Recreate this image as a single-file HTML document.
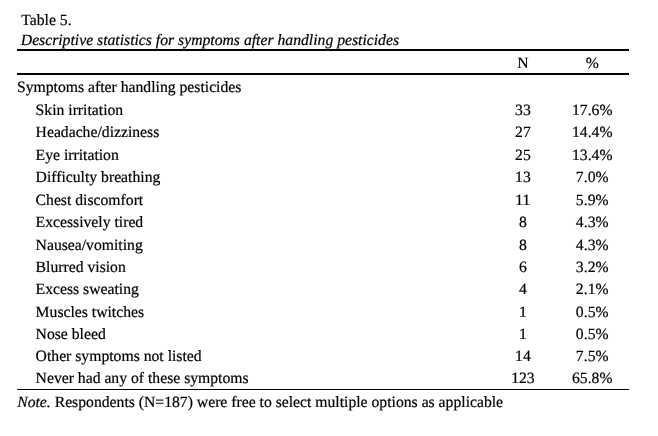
<!DOCTYPE html>
<html lang="en"><head><meta charset="utf-8"><title>Table 5</title>
<style>
html,body{margin:0;padding:0;background:#fff;}
body{width:658px;height:436px;position:relative;overflow:hidden;font-family:"Liberation Serif",serif;font-size:15.7px;line-height:18px;color:#000;text-rendering:geometricPrecision;-webkit-text-stroke:0.2px #000;}
.t{position:absolute;white-space:nowrap;line-height:18px;margin:0;}
.i{font-style:italic;}
table{position:absolute;left:17px;top:49px;width:612px;border-collapse:separate;border-spacing:0;table-layout:fixed;}
th,td{padding:0;margin:0;font-weight:normal;vertical-align:top;white-space:nowrap;line-height:18px;box-sizing:border-box;}
thead th{border-top:2px solid #000;border-bottom:2px solid #000;height:26px;}
td.g{text-align:left;padding-left:0;}
td.s{text-align:left;padding-left:18.6px;}
td.n,th.n{text-align:center;padding-left:0.8px;}
td.p,th.p{text-align:center;padding-right:2.6px;}
tr.last td{border-bottom:1px solid #000;}
</style></head><body>
<div class="t" style="left:21.3px;top:12px">Table 5.</div>
<div class="t i" style="left:20.8px;top:32px">Descriptive statistics for symptoms after handling pesticides</div>
<table>
<colgroup><col style="width:470px"><col style="width:71px"><col style="width:71px"></colgroup>
<thead><tr><th></th><th class="n" style="padding-top:4px">N</th><th class="p" style="padding-top:4px">%</th></tr></thead>
<tbody>
<tr style="height:27px"><td class="g" colspan="3" style="padding-top:4px">Symptoms after handling pesticides</td></tr>
<tr style="height:22px"><td class="s">Skin irritation</td><td class="n">33</td><td class="p">17.6%</td></tr>
<tr style="height:23px"><td class="s">Headache/dizziness</td><td class="n">27</td><td class="p">14.4%</td></tr>
<tr style="height:22px"><td class="s">Eye irritation</td><td class="n">25</td><td class="p">13.4%</td></tr>
<tr style="height:23px"><td class="s">Difficulty breathing</td><td class="n">13</td><td class="p">7.0%</td></tr>
<tr style="height:22px"><td class="s">Chest discomfort</td><td class="n">11</td><td class="p">5.9%</td></tr>
<tr style="height:23px"><td class="s">Excessively tired</td><td class="n">8</td><td class="p">4.3%</td></tr>
<tr style="height:22px"><td class="s">Nausea/vomiting</td><td class="n">8</td><td class="p">4.3%</td></tr>
<tr style="height:22px"><td class="s">Blurred vision</td><td class="n">6</td><td class="p">3.2%</td></tr>
<tr style="height:23px"><td class="s">Excess sweating</td><td class="n">4</td><td class="p">2.1%</td></tr>
<tr style="height:22px"><td class="s">Muscles twitches</td><td class="n">1</td><td class="p">0.5%</td></tr>
<tr style="height:22px"><td class="s">Nose bleed</td><td class="n">1</td><td class="p">0.5%</td></tr>
<tr style="height:22px"><td class="s">Other symptoms not listed</td><td class="n">14</td><td class="p">7.5%</td></tr>
<tr class="last" style="height:20px"><td class="s">Never had any of these symptoms</td><td class="n">123</td><td class="p">65.8%</td></tr>
</tbody></table>
<div class="t" style="left:17.2px;top:394px"><i>Note.</i> Respondents (N=187) were free to select multiple options as applicable</div>
</body></html>
